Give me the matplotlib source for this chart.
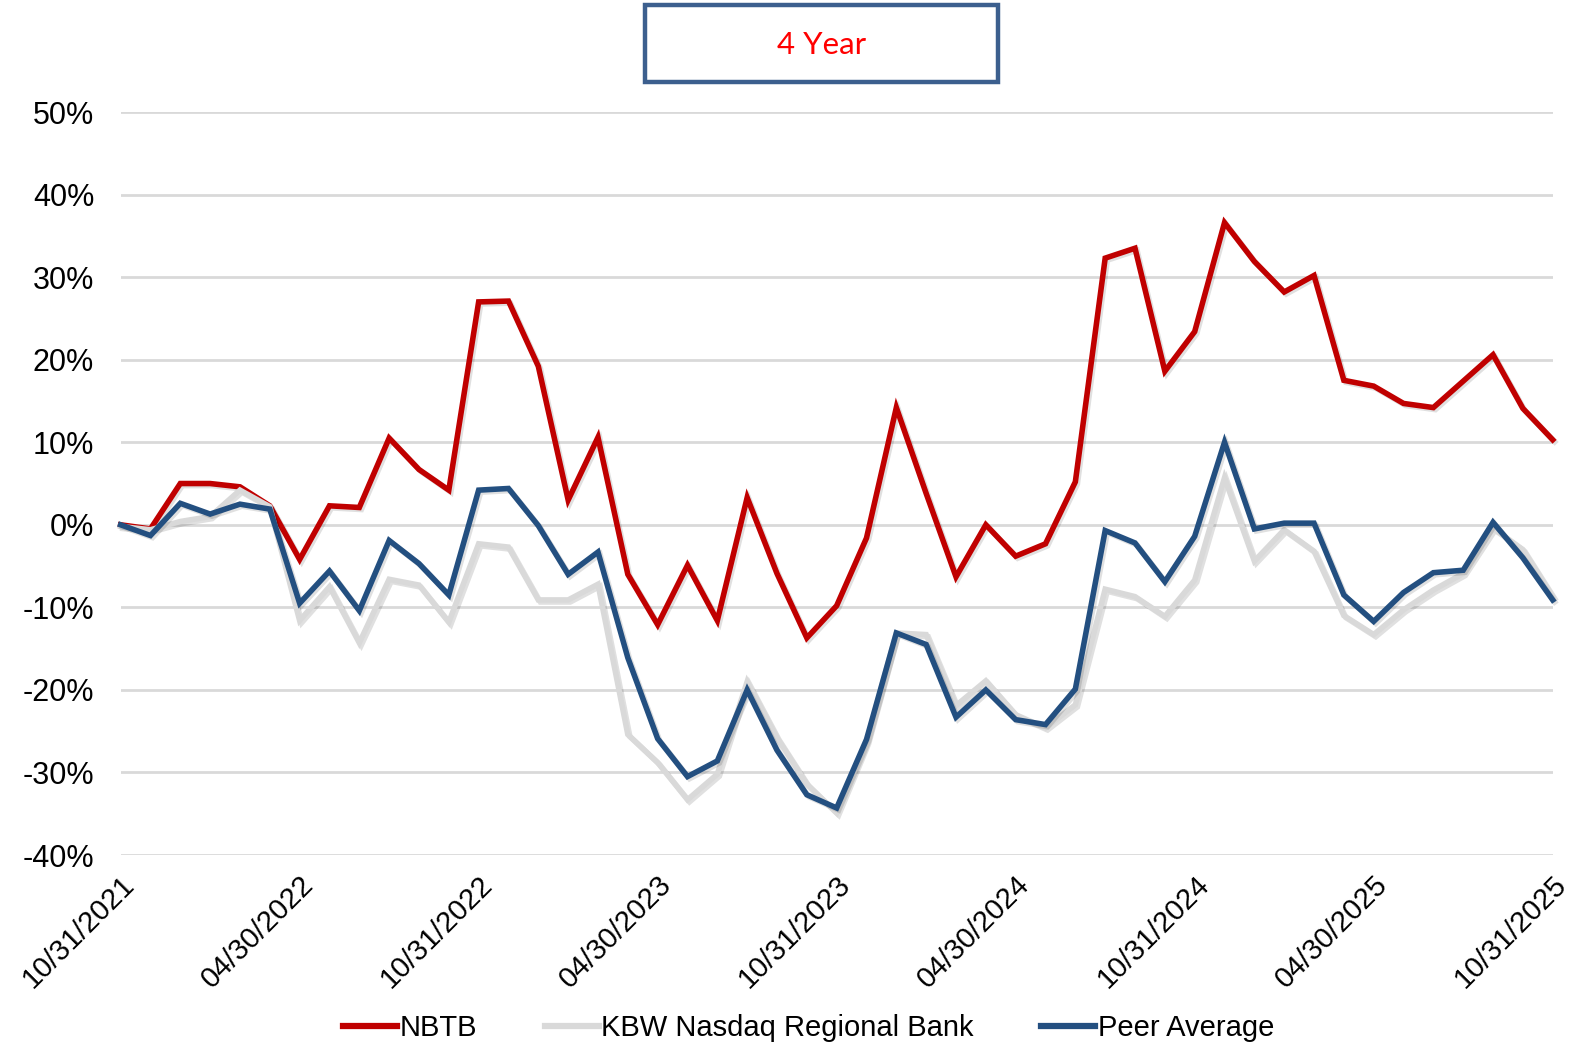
import numpy as np
import matplotlib.pyplot as plt
import matplotlib.patheffects as pe
from matplotlib.patches import Rectangle


# =========================
# Data (cumulative total return, %)
# =========================

tick_labels = [
    "10/31/2021", "04/30/2022", "10/31/2022", "04/30/2023", "10/31/2023",
    "04/30/2024", "10/31/2024", "04/30/2025", "10/31/2025",
]
tick_step = 6  # one label every six months

nbtb = [
    0.0, -0.5, 5.0, 5.0, 4.6, 2.3, -4.2, 2.3, 2.1, 10.5,
    6.7, 4.2, 27.0, 27.1, 19.2, 3.0, 10.6, -6.0, -12.1, -4.9,
    -11.6, 3.3, -5.9, -13.7, -9.8, -1.6, 14.2, 3.8, -6.3, 0.0,
    -3.8, -2.3, 5.2, 32.3, 33.5, 18.6, 23.4, 36.6, 31.9, 28.2,
    30.2, 17.5, 16.8, 14.7, 14.2, 17.4, 20.6, 14.1, 10.3,
]

kbw_regional = [
    -0.2, -0.6, 0.4, 1.0, 4.2, 2.2, -11.6, -7.5, -14.3, -6.6,
    -7.3, -11.8, -2.3, -2.7, -9.1, -9.1, -7.2, -25.4, -28.8, -33.3,
    -30.2, -19.0, -25.8, -31.4, -34.9, -26.3, -13.1, -13.3, -21.9, -18.9,
    -23.0, -24.6, -21.8, -7.8, -8.7, -11.1, -6.7, 5.7, -4.4, -0.6,
    -3.2, -11.0, -13.3, -10.3, -7.9, -5.9, -0.4, -3.0, -8.7,
]

peer_average = [
    0.0, -1.3, 2.6, 1.3, 2.5, 1.9, -9.5, -5.6, -10.4, -1.9,
    -4.7, -8.5, 4.2, 4.4, -0.1, -6.0, -3.3, -16.1, -25.9, -30.5,
    -28.6, -20.0, -27.3, -32.7, -34.3, -26.0, -13.1, -14.5, -23.3, -20.0,
    -23.6, -24.2, -19.9, -0.7, -2.2, -6.9, -1.4, 10.0, -0.5, 0.2,
    0.2, -8.5, -11.7, -8.2, -5.8, -5.5, 0.3, -4.0, -9.1,
]

series_names = ["NBTB", "KBW Nasdaq Regional Bank", "Peer Average"]
series_colors = ["#C00000", "#D9D9D9", "#234F80"]

y_ticks = [50, 40, 30, 20, 10, 0, -10, -20, -30, -40]


# =========================
# Figure
# =========================

plt.rcParams["font.family"] = ["Liberation Sans", "DejaVu Sans"]

fig = plt.figure(figsize=(15.81, 10.44), dpi=100)
ax = fig.add_axes([0.0763, 0.181, 0.9058, 0.7117])

x = np.arange(len(nbtb))
shadow = [pe.SimpleLineShadow(offset=(1.5, -1.5), shadow_color="black", alpha=0.12),
          pe.Normal()]

# drawn in series order, so peer average ends up on top
for values, name, color in zip([nbtb, kbw_regional, peer_average],
                               series_names, series_colors):
    ax.plot(x, values, color=color, linewidth=4.0, label=name,
            solid_joinstyle="miter", clip_on=False, path_effects=shadow)

ax.set_xlim(0, len(nbtb) - 1)
ax.set_ylim(-40, 50)

ax.set_yticks(y_ticks)
ax.set_yticklabels([f"{v}%" for v in y_ticks], fontsize=22)
ax.yaxis.grid(True, color="#D9D9D9", linewidth=2)
ax.set_axisbelow(True)

ax.set_xticks(x[::tick_step])
ax.set_xticklabels(tick_labels, fontsize=21, rotation=45,
                   ha="right", va="top", rotation_mode="anchor")

ax.tick_params(axis="both", length=0)
ax.tick_params(axis="y", pad=19)
ax.tick_params(axis="x", pad=11)
for spine in ax.spines.values():
    spine.set_visible(False)

leg = fig.legend(loc="center", bbox_to_anchor=(0.5115, 0.015), ncol=3,
                 frameon=False, fontsize=21, handlelength=1.85,
                 handletextpad=0.1, columnspacing=2.3)
for line in leg.get_lines():
    line.set_linewidth(4.5)
    line.set_path_effects([])

# title box
fig.patches.append(Rectangle((0.408, 0.9215), 0.2233, 0.0738,
                             transform=fig.transFigure, facecolor="white",
                             edgecolor="#3C5F8E", linewidth=3.2))
fig.text(0.5196, 0.957, "4 Year", color="#FF0000", fontsize=22.5,
         family=["Lato", "DejaVu Sans"], ha="center", va="center")

fig.savefig("out.png", dpi=100)
